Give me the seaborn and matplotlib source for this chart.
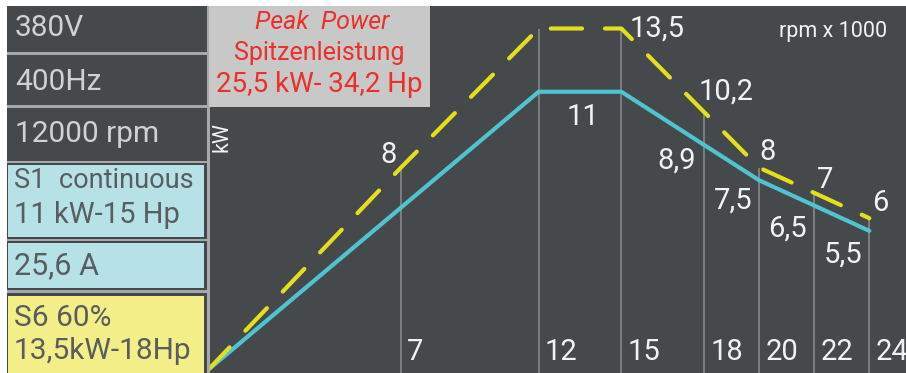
import matplotlib
matplotlib.use("Agg")
import matplotlib.pyplot as plt
import pandas as pd
import seaborn as sns
from matplotlib.patches import Rectangle

# ---- data (speed in rpm x 1000, power in kW) ----
rpm_s1 = [0, 12, 15, 18, 20, 22, 24]
kw_s1 = [0, 11, 11, 8.9, 7.5, 6.5, 5.5]

rpm_s6 = [0, 7, 12, 15, 18, 20, 22, 24]
kw_s6 = [0, 8, 13.5, 13.5, 10.2, 8, 7, 6]

tick_rpm = [7, 12, 15, 18, 20, 22, 24]
tick_labels = ["7", "12", "15", "18", "20", "22", "24"]

s6_label_rpm = [7, 15, 18, 20, 22, 24]
s1_label_rpm = [12, 18, 20, 22, 24]

panel_rows = ["380V", "400Hz", "12000 rpm"]
s1_text = ["S1  continuous", "11 kW-15 Hp"]
current_text = "25,6 A"
s6_text = ["S6 60%", "13,5kW-18Hp"]
peak_text = ["Peak  Power", "Spitzenleistung", "25,5 kW- 34,2 Hp"]


def fmt(v):
    return (f"{v:g}").replace(".", ",")


# ---- style ----
DARK = "#46494b"
SEP = "#a6a8a9"
CYAN_BOX = "#b5e1e7"
YELLOW_BOX = "#f3ee88"
BOX_TEXT = "#5a5d5f"
ROW_TEXT = "#d0d1d1"
PEAK_BOX = "#c8c8c8"
RED = "#ec2f27"
LINE_CYAN = "#4ec4d0"
LINE_YELLOW = "#e5df1b"
GRID = "#8b8e90"
LABEL = "#f2f2f2"

sns.set_style("white")
plt.rcParams["font.family"] = ["Roboto", "DejaVu Sans"]

W, H = 906, 373
fig = plt.figure(figsize=(W / 100, H / 100), dpi=100, facecolor="white")

# ---- chart area ----
x0_px, top_px = 208, 6
ax = fig.add_axes([x0_px / W, 0, (W - x0_px) / W, (H - top_px) / H], zorder=1)
ax.set_facecolor(DARK)
ax.set_xlim(0, 25.33)
ax.set_ylim(-0.12, 14.39)
ax.set_xticks([])
ax.set_yticks([])
for sp in ax.spines.values():
    sp.set_visible(False)

s6_lookup = dict(zip(rpm_s6, kw_s6))
s1_lookup = dict(zip(rpm_s1, kw_s1))

# vertical guide lines from the baseline up to the S6 curve
ax.vlines(tick_rpm, -0.12, [s6_lookup[r] for r in tick_rpm],
          color=GRID, lw=1.1, zorder=1)

df_s1 = pd.DataFrame({"rpm": rpm_s1, "kW": kw_s1})
df_s6 = pd.DataFrame({"rpm": rpm_s6, "kW": kw_s6})

sns.lineplot(data=df_s1, x="rpm", y="kW", ax=ax, color=LINE_CYAN, lw=3.0,
             sort=False, zorder=3, solid_capstyle="round", solid_joinstyle="round")
sns.lineplot(data=df_s6, x="rpm", y="kW", ax=ax, color=LINE_YELLOW, lw=3.0,
             sort=False, zorder=4, dashes=False)
ax.lines[-1].set_dashes([7.5, 5.5])
ax.lines[-1].set_dash_capstyle("round")
ax.set_xlabel("")
ax.set_ylabel("")

FS = 21
# S6 value labels (offset, alignment)
s6_pos = {7: (-0.15, 0.5, "right"), 15: (0.3, 0.0, "left"),
          18: (-0.2, 0.8, "left"), 20: (0.0, 0.6, "left"),
          22: (0.1, 0.5, "left"), 24: (0.1, 0.6, "left")}
for r in s6_label_rpm:
    dx, dy, ha = s6_pos[r]
    ax.text(r + dx, s6_lookup[r] + dy, fmt(s6_lookup[r]), ha=ha, va="center",
            color=LABEL, fontsize=FS, zorder=5)

# S1 value labels
s1_pos = {12: (1.6, -1.0, "center"), 18: (-0.3, -0.64, "right"),
          20: (-0.25, -0.8, "right"), 22: (-0.27, -0.9, "right"),
          24: (-0.27, -0.95, "right")}
for r in s1_label_rpm:
    dx, dy, ha = s1_pos[r]
    ax.text(r + dx, s1_lookup[r] + dy, fmt(s1_lookup[r]), ha=ha, va="center",
            color=LABEL, fontsize=FS, zorder=5)

# speed labels along the bottom
for r, t in zip(tick_rpm, tick_labels):
    ax.text(r + 0.22, 0.72, t, ha="left", va="center", color=LABEL,
            fontsize=FS, zorder=5)

ax.text(24.64, 13.4, "rpm x 1000", ha="right", va="center", color=LABEL,
        fontsize=15.5, zorder=5)
ax.text(0.5, 9.2, "kW", ha="center", va="center", rotation=90,
        color=LABEL, fontsize=15.5, zorder=5)

# ---- left information panel and peak box (pixel coordinates) ----
ov = fig.add_axes([0, 0, 1, 1], zorder=2)
ov.set_xlim(0, W)
ov.set_ylim(H, 0)
ov.set_axis_off()


def rect(x1, y1, x2, y2, color):
    ov.add_patch(Rectangle((x1, y1), x2 - x1, y2 - y1, facecolor=color,
                           edgecolor="none"))


rect(7, 6, 208, H, DARK)
for y1, y2 in [(52, 55), (105, 108), (161, 163), (239, 241), (290, 293)]:
    rect(7, y1, 207, y2, SEP)
rect(206.5, 6, 209.5, H, SEP)

rect(8, 165, 204, 237, CYAN_BOX)
rect(8, 243, 204, 288, CYAN_BOX)
rect(8, 296, 204, H, YELLOW_BOX)

rect(209, 6, 430, 107, PEAK_BOX)

for t, yc in zip(panel_rows, [28.5, 82.5, 134]):
    ov.text(15, yc, t, ha="left", va="center", color=ROW_TEXT, fontsize=21.5)

ov.text(14, 180, s1_text[0], ha="left", va="center", color=BOX_TEXT, fontsize=19.5)
ov.text(14, 215, s1_text[1], ha="left", va="center", color=BOX_TEXT, fontsize=21)
ov.text(14, 266, current_text, ha="left", va="center", color=BOX_TEXT, fontsize=22)
ov.text(14, 317.5, s6_text[0], ha="left", va="center", color=BOX_TEXT, fontsize=21.5)
ov.text(14, 351, s6_text[1], ha="left", va="center", color=BOX_TEXT, fontsize=21.5)

ov.text(322, 22, peak_text[0], ha="center", va="center", color=RED,
        fontsize=18, style="italic")
ov.text(319, 53, peak_text[1], ha="center", va="center", color=RED, fontsize=18)
ov.text(319, 85, peak_text[2], ha="center", va="center", color=RED, fontsize=20)

fig.savefig("out.png", dpi=100, facecolor="white")
